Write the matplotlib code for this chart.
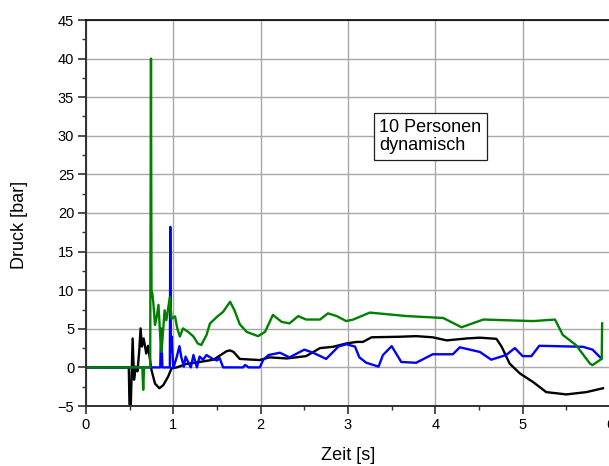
import matplotlib
matplotlib.use('Agg')
import matplotlib.pyplot as plt
from matplotlib.ticker import MultipleLocator

plt.rcParams['font.family'] = ['Liberation Sans', 'DejaVu Sans']

# black trace
t_black = [0, 0.49, 0.50, 0.51, 0.534, 0.55, 0.57, 0.59, 0.61, 0.625, 0.64, 0.66, 0.69, 0.71,
           0.75, 0.79, 0.84, 0.885, 0.94, 0.98, 1.04, 1.15, 1.30, 1.46, 1.61, 1.65, 1.69, 1.76,
           1.99, 2.1, 2.3, 2.52, 2.68, 2.83, 2.98, 3.1, 3.17, 3.27, 3.59, 3.78, 3.97, 4.13, 4.36,
           4.51, 4.7, 4.76, 4.85, 4.97, 5.12, 5.27, 5.5, 5.73, 5.92]
p_black = [0, 0, -6, -6, 3.75, -1.6, 0.1, -0.5, 2.2, 5.05, 2.7, 3.75, 1.8, 2.8,
           -0.35, -2.1, -2.7, -2.3, -1.2, -0.1, 0, 0.45, 0.7, 1.0, 2.1, 2.2, 2.0, 1.1,
           0.95, 1.3, 1.16, 1.46, 2.5, 2.67, 3.1, 3.3, 3.3, 3.9, 3.97, 4.05, 3.9, 3.5, 3.75,
           3.85, 3.7, 2.67, 0.5, -0.8, -1.9, -3.2, -3.5, -3.2, -2.7]

# blue trace
t_blue = [0, 0.85, 0.86, 0.875, 0.94, 0.96, 0.965, 0.97, 0.98, 0.99, 1.0, 1.04, 1.07, 1.09,
          1.12, 1.14, 1.16, 1.20, 1.23, 1.27, 1.30, 1.34, 1.38, 1.45, 1.50, 1.53, 1.57, 1.80,
          1.82, 1.84, 1.86, 1.99, 2.03, 2.09, 2.22, 2.33, 2.5, 2.6, 2.75, 2.89, 2.98, 3.08,
          3.13, 3.21, 3.35, 3.40, 3.5, 3.61, 3.78, 3.97, 4.2, 4.28, 4.51, 4.64, 4.81, 4.91,
          5.0, 5.1, 5.19, 5.69, 5.8, 5.9]
p_blue = [0, 0, 5.05, 0, 0, 0, 18.2, 2.0, 4.0, 1.8, -0.1, 1.4, 2.75, 1.4,
          0.1, 1.4, 0.9, 0, 1.6, 0, 1.4, 1.0, 1.6, 1.1, 0.9, 1.2, 0, 0,
          0.3, 0.2, 0, 0, 1.0, 1.6, 1.9, 1.3, 2.3, 1.9, 1.1, 2.7, 3.0, 2.7,
          1.3, 0.6, 0.1, 1.6, 2.75, 0.7, 0.6, 1.7, 1.7, 2.6, 2.0, 1.0, 1.6, 2.5,
          1.46, 1.46, 2.8, 2.67, 2.3, 1.16]

# green trace
t_green = [0, 0.645, 0.655, 0.665, 0.735, 0.744, 0.75, 0.76, 0.77, 0.79, 0.81, 0.83, 0.85,
           0.865, 0.90, 0.92, 0.96, 0.98, 1.02, 1.045, 1.075, 1.11, 1.17, 1.23, 1.28, 1.32,
           1.38, 1.42, 1.50, 1.57, 1.65, 1.70, 1.76, 1.84, 1.97, 2.05, 2.14, 2.24, 2.33, 2.43,
           2.52, 2.68, 2.77, 2.87, 2.98, 3.06, 3.25, 3.67, 4.09, 4.3, 4.55, 5.12, 5.37, 5.46,
           5.61, 5.77, 5.8, 5.9, 5.905, 5.91]
p_green = [0, 0, -2.9, 0, 0, 40, 10, 9.5, 8.5, 5.5, 6.6, 8.1, 4.0,
           2.0, 7.4, 6.1, 9.1, 6.3, 6.6, 5.05, 4.0, 5.05, 4.6, 4.0, 3.1, 2.9,
           4.2, 5.7, 6.55, 7.2, 8.5, 7.4, 5.6, 4.6, 4.05, 4.6, 6.8, 5.9, 5.7, 6.65,
           6.2, 6.2, 7.0, 6.65, 6.0, 6.2, 7.1, 6.65, 6.4, 5.2, 6.2, 6.0, 6.2, 4.2,
           2.9, 0.5, 0.3, 1.07, 1.07, 5.7]

fig = plt.figure(figsize=(6.09, 4.66), dpi=100)
ax = fig.add_axes([86 / 609, 60 / 466, 524 / 609, 386 / 466])

ax.plot(t_black, p_black, color='black', lw=1.7)
ax.plot(t_blue, p_blue, color='#0000ff', lw=1.7)
ax.plot(t_green, p_green, color='#008000', lw=1.7)

ax.set_xlim(0, 6)
ax.set_ylim(-5, 45)
ax.xaxis.set_major_locator(MultipleLocator(1))
ax.xaxis.set_minor_locator(MultipleLocator(0.5))
ax.yaxis.set_major_locator(MultipleLocator(5))
ax.yaxis.set_minor_locator(MultipleLocator(2.5))
ax.grid(True, which='major', color='#a8a8a8', lw=1.0)
ax.set_axisbelow(True)

ax.tick_params(which='major', direction='out', length=5.5, width=1.2, color='#303030',
               labelsize=10.5, pad=3)
ax.tick_params(which='minor', direction='out', length=3, width=1.0, color='#303030')
for side in ['left', 'bottom']:
    ax.spines[side].set_color('#303030')
    ax.spines[side].set_linewidth(1.4)
ax.spines['top'].set_color('black')
ax.spines['top'].set_linewidth(1.2)
ax.spines['right'].set_visible(False)

ax.set_xlabel('Zeit [s]', fontsize=13, va='center')
ax.xaxis.set_label_coords(0.5, -0.127)
ax.set_ylabel('Druck [bar]', fontsize=13, va='center')
ax.yaxis.set_label_coords(-0.126, 0.47)

ax.text(3.36, 32.2, '10 Personen\ndynamisch', fontsize=13, va='top', ha='left',
        linespacing=1.12,
        bbox=dict(boxstyle='square,pad=0.3', fc='white', ec='#202020', lw=0.9))

fig.savefig('out.png', dpi=100)
